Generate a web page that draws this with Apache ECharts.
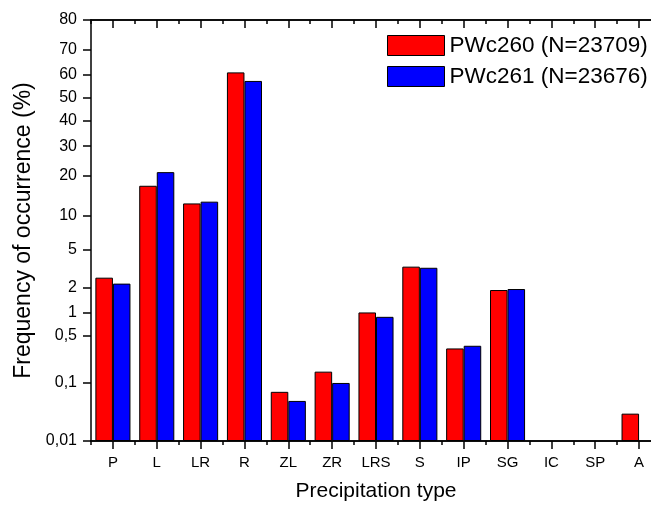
<!DOCTYPE html>
<html>
<head>
<meta charset="utf-8">
<script src="https://cdn.jsdelivr.net/npm/echarts@6/dist/echarts.min.js"></script>
<style>
  html, body { margin: 0; padding: 0; background: #fff; }
  #chart { width: 651px; height: 505px; }
</style>
</head>
<body>
<div id="chart"></div>
<script>
// Precipitation type categories
const categories = ['P', 'L', 'LR', 'R', 'ZL', 'ZR', 'LRS', 'S', 'IP', 'SG', 'IC', 'SP', 'A'];

// Frequency of occurrence (%) for each present-weather sensor (0 = never reported)
const pwc260 = [2.56, 17.0, 12.6, 60.8, 0.072, 0.15, 1.0, 3.36, 0.33, 1.86, 0, 0, 0.031];
const pwc261 = [2.2, 21.0, 13.0, 57.2, 0.051, 0.10, 0.88, 3.27, 0.36, 1.91, 0, 0, 0];

const seriesNames = ['PWc260 (N=23709)', 'PWc261 (N=23676)'];

// Probability-scale tick positions (%) and their printed labels
const tickValues = [0.01, 0.1, 0.5, 1, 2, 5, 10, 20, 30, 40, 50, 60, 70, 80];
const tickLabels = ['0,01', '0,1', '0,5', '1', '2', '5', '10', '20', '30', '40', '50', '60', '70', '80'];

// Inverse standard normal CDF (Acklam's rational approximation)
function probit(p) {
  const a = [-3.969683028665376e+01, 2.209460984245205e+02, -2.759285104469687e+02,
             1.383577518672690e+02, -3.066479806614716e+01, 2.506628277459239e+00];
  const b = [-5.447609879822406e+01, 1.615858368580409e+02, -1.556989798598866e+02,
             6.680131188771670e+01, -1.328068155288572e+01];
  const c = [-7.784894002430293e-03, -3.223964580411365e-01, -2.400758277161838e+00,
             -2.549732539343734e+00, 4.374664141464968e+00, 2.938163982698783e+00];
  const d = [7.784695709041462e-03, 3.224671290700398e-01, 2.445134137142996e+00,
             3.754408661907416e+00];
  const pLow = 0.02425, pHigh = 1 - pLow;
  let q, r;
  if (p < pLow) {
    q = Math.sqrt(-2 * Math.log(p));
    return (((((c[0] * q + c[1]) * q + c[2]) * q + c[3]) * q + c[4]) * q + c[5]) /
           ((((d[0] * q + d[1]) * q + d[2]) * q + d[3]) * q + 1);
  } else if (p <= pHigh) {
    q = p - 0.5; r = q * q;
    return (((((a[0] * r + a[1]) * r + a[2]) * r + a[3]) * r + a[4]) * r + a[5]) * q /
           (((((b[0] * r + b[1]) * r + b[2]) * r + b[3]) * r + b[4]) * r + 1);
  }
  q = Math.sqrt(-2 * Math.log(1 - p));
  return -(((((c[0] * q + c[1]) * q + c[2]) * q + c[3]) * q + c[4]) * q + c[5]) /
          ((((d[0] * q + d[1]) * q + d[2]) * q + d[3]) * q + 1);
}

// Axis coordinate: probit of the percentage, shifted so the axis bottom (0,01 %) is zero
const base = probit(tickValues[0] / 100);
const toAxis = pct => (pct > 0 ? probit(pct / 100) - base : '-');
const axisTicks = tickValues.map(toAxis);
const axisMax = axisTicks[axisTicks.length - 1];

function labelFor(v) {
  let best = 0, bestD = Infinity;
  axisTicks.forEach((t, i) => { const dd = Math.abs(t - v); if (dd < bestD) { bestD = dd; best = i; } });
  return tickLabels[best];
}

const font = 'Liberation Sans, Arial, sans-serif';
const lineStyle = { color: '#000', width: 1.5 };

const chart = echarts.init(document.getElementById('chart'), null, { renderer: 'canvas' });

const hiddenX = (position, alignWithLabel, length) => ({
  type: 'category',
  data: categories,
  position: position,
  axisLine: { show: true, lineStyle: lineStyle },
  axisTick: { show: true, alignWithLabel: alignWithLabel, inside: position === 'top', length: length, lineStyle: lineStyle },
  axisLabel: { show: false },
  splitLine: { show: false }
});

chart.setOption({
  animation: false,
  backgroundColor: '#fff',
  textStyle: { fontFamily: font, color: '#000' },
  grid: { left: 91, right: -10, top: 20, bottom: 64, containLabel: false, outerBoundsMode: 'none' },
  legend: {
    orient: 'vertical',
    left: 382,
    top: 29,
    itemWidth: 57,
    itemHeight: 20,
    itemGap: 8,
    icon: 'rect',
    itemStyle: { borderColor: '#000', borderWidth: 1 },
    textStyle: { fontFamily: font, fontSize: 22.5, color: '#000' },
    data: seriesNames
  },
  xAxis: [
    {
      type: 'category',
      data: categories,
      position: 'bottom',
      name: 'Precipitation type',
      nameLocation: 'middle',
      nameGap: 40,
      nameTextStyle: { fontFamily: font, fontSize: 21, color: '#000' },
      axisLine: { show: true, lineStyle: lineStyle },
      axisTick: { show: true, alignWithLabel: true, length: 8, lineStyle: lineStyle },
      axisLabel: { show: true, interval: 0, margin: 14, fontFamily: font, fontSize: 15, color: '#000' },
      splitLine: { show: false }
    },
    hiddenX('bottom', false, 4),
    hiddenX('top', true, 8),
    hiddenX('top', false, 4)
  ],
  yAxis: [{
    type: 'value',
    min: 0,
    max: axisMax,
    name: 'Frequency of occurrence (%)',
    nameLocation: 'middle',
    nameGap: 53,
    nameTextStyle: { fontFamily: font, fontSize: 23, color: '#000' },
    axisLine: { show: true, lineStyle: lineStyle },
    axisTick: { show: true, length: 8, customValues: axisTicks, lineStyle: lineStyle },
    axisLabel: {
      show: true, margin: 14, fontFamily: font, fontSize: 16, color: '#000',
      customValues: axisTicks,
      formatter: v => labelFor(v)
    },
    splitLine: { show: false }
  }],
  series: [
    {
      name: seriesNames[0],
      type: 'bar',
      xAxisIndex: 0,
      data: pwc260.map(toAxis),
      barGap: '0%',
      barCategoryGap: '20%',
      itemStyle: { color: '#ff0000', borderColor: '#000', borderWidth: 1 }
    },
    {
      name: seriesNames[1],
      type: 'bar',
      xAxisIndex: 0,
      data: pwc261.map(toAxis),
      barGap: '0%',
      barCategoryGap: '20%',
      itemStyle: { color: '#0000ff', borderColor: '#000', borderWidth: 1 }
    }
  ]
});
</script>
</body>
</html>
